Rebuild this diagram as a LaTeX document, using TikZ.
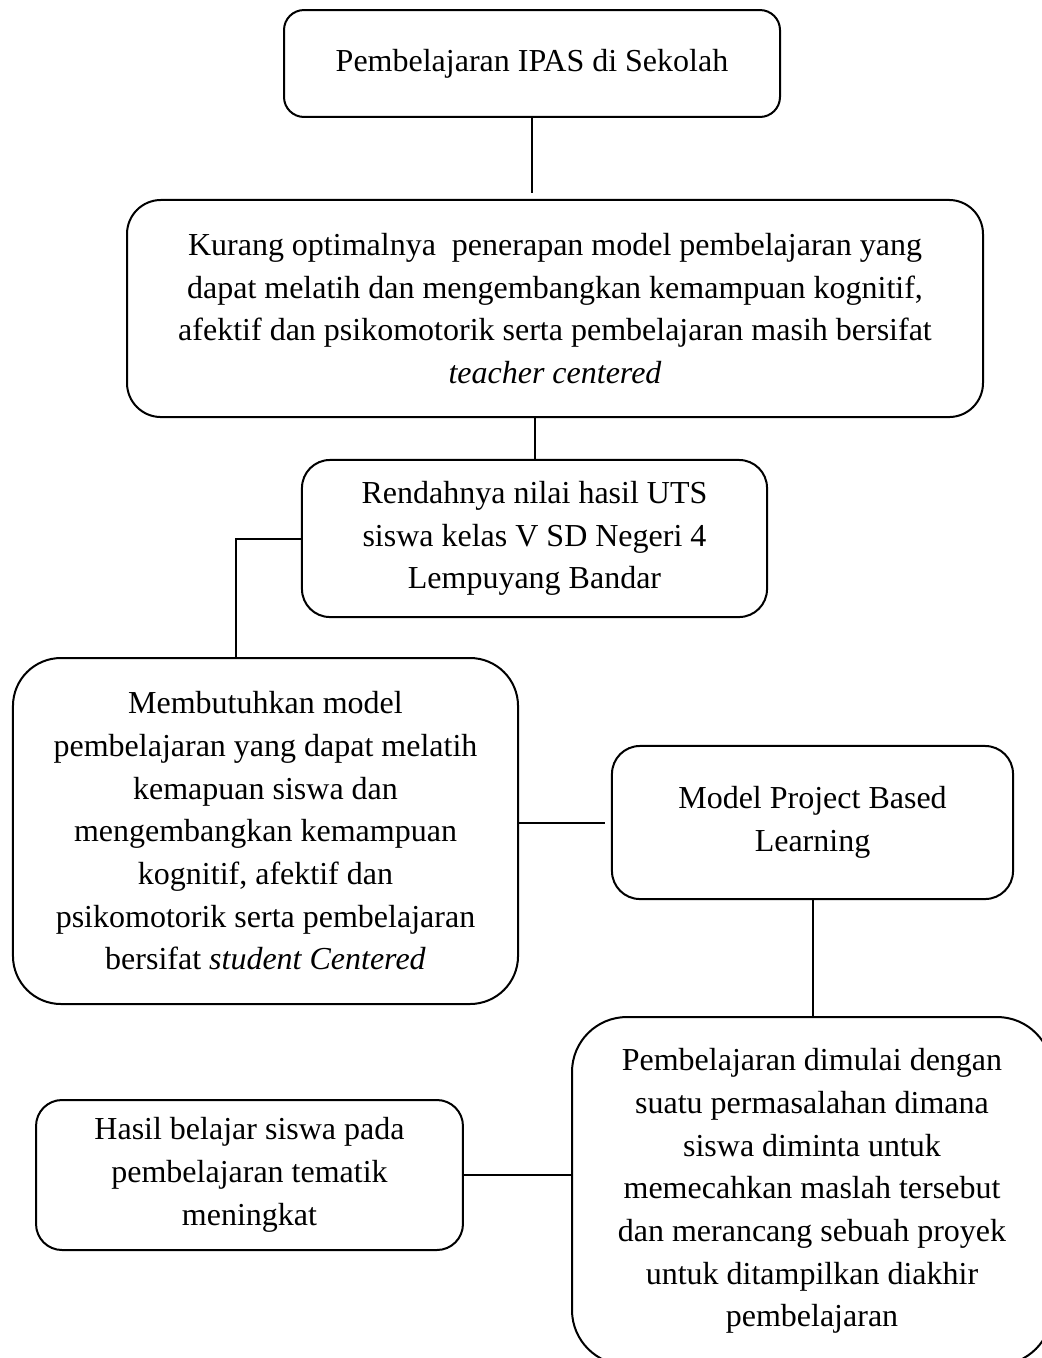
\documentclass[tikz,border=0pt]{standalone}
\usepackage{fontspec}
\setmainfont{Liberation Serif}
\begin{document}
\begin{tikzpicture}[x=0.375pt, y=-0.375pt,
        roundbox/.style={draw, line width=0.75pt, align=center, inner sep=0pt,
            font=\fontsize{12}{16}\selectfont},
        link/.style={line width=0.75pt}]
        \useasboundingbox (0, 0) rectangle (1041, 1358);
        \node[roundbox, rounded corners=7.5pt, minimum width=186pt, minimum height=40.1pt]
            (ipas) at (532, 63.5) {Pembelajaran IPAS di Sekolah};
        \node[roundbox, rounded corners=12.75pt, minimum width=321pt, minimum height=81.4pt]
            (masalah) at (555, 308.5) {Kurang optimalnya~ penerapan model pembelajaran yang\\
            dapat melatih dan mengembangkan kemampuan kognitif,\\
            afektif dan psikomotorik serta pembelajaran masih bersifat\\
            \textit{teacher centered}};
        \node[roundbox, rounded corners=10.5pt, minimum width=174.4pt, minimum height=58.9pt]
            (rendah) at (534.5, 538.5) {Rendahnya nilai hasil UTS\\
            siswa kelas V SD Negeri 4\\Lempuyang Bandar};
        \node[roundbox, rounded corners=18pt, minimum width=189.4pt, minimum height=129.75pt]
            (butuh) at (265.5, 831) {Membutuhkan model\\
            pembelajaran yang dapat melatih\\kemapuan siswa dan\\
            mengembangkan kemampuan\\kognitif, afektif dan\\
            psikomotorik serta pembelajaran\\bersifat \textit{student Centered}};
        \node[roundbox, rounded corners=10.5pt, minimum width=150.4pt, minimum height=57.4pt]
            (pjbl) at (812.5, 822.5) {Model Project Based\\Learning};
        \node[roundbox, rounded corners=20.6pt, minimum width=180pt, minimum height=130.5pt]
            (mulai) at (812, 1191) {Pembelajaran dimulai dengan\\
            suatu permasalahan dimana\\siswa diminta untuk\\
            memecahkan maslah tersebut\\dan merancang sebuah proyek\\
            untuk ditampilkan diakhir\\pembelajaran};
        \node[roundbox, rounded corners=9.75pt, minimum width=160.1pt, minimum height=56.25pt]
            (hasil) at (249.5, 1175) {Hasil belajar siswa pada\\
            pembelajaran tematik\\meningkat};
        \draw[link, shorten >=2.25pt] (ipas.south) -- (ipas.south |- masalah.north);
        \draw[link] (rendah.north |- masalah.south) -- (rendah.north);
        \draw[link] (rendah.west) -| ([xshift=-11.25pt]butuh.north);
        \draw[link, shorten >=2.25pt] (pjbl.west -| butuh.east) -- (pjbl.west);
        \draw[link] (pjbl.south) -- (pjbl.south |- mulai.north);
        \draw[link] (hasil.east) -- (hasil.east -| mulai.west);
    \end{tikzpicture}
\end{document}
